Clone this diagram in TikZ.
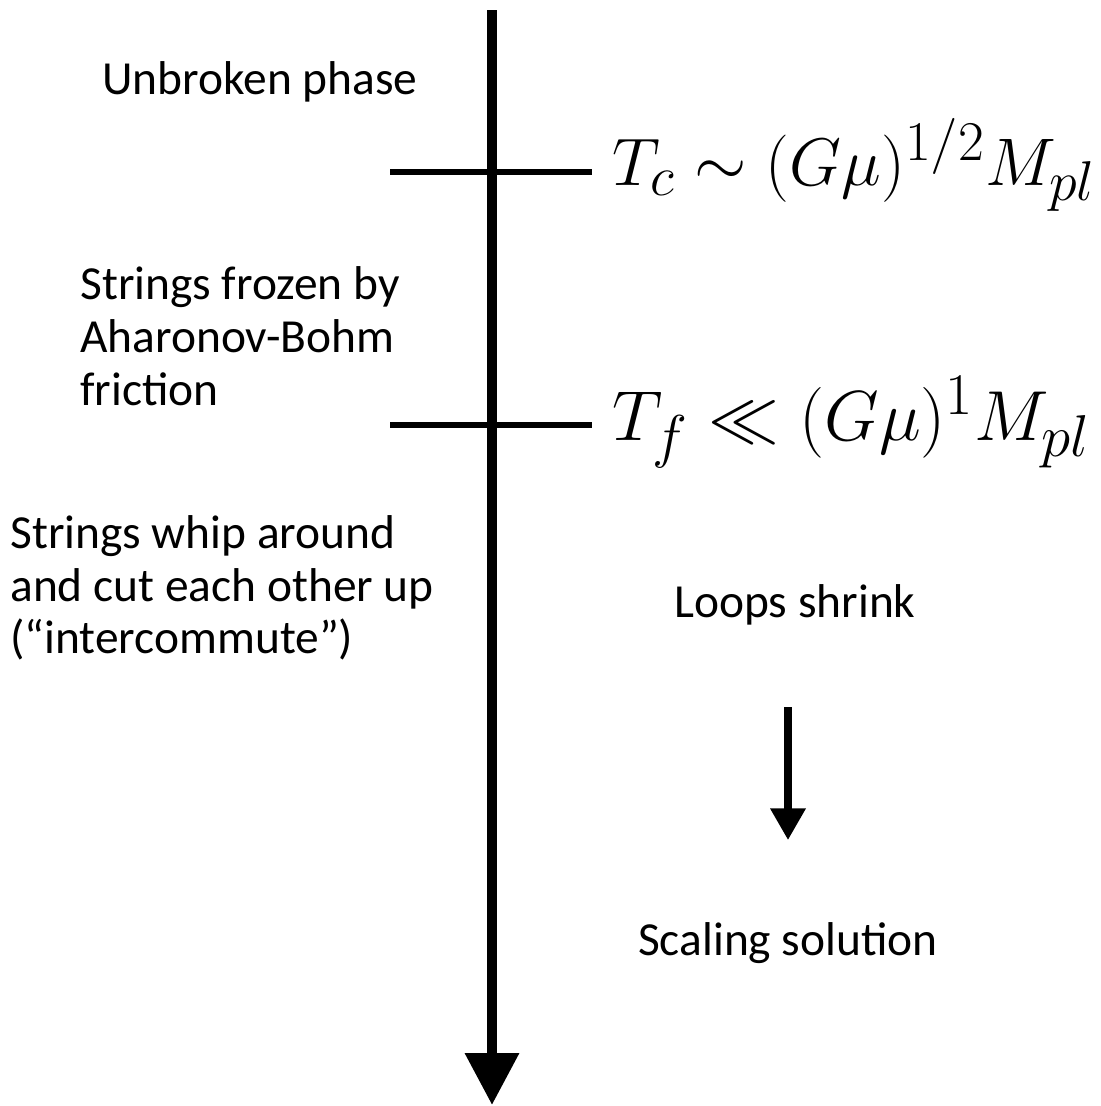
\documentclass[tikz,border=0pt]{standalone}
\usepackage[no-math]{fontspec}
\usepackage{graphicx}
\setmainfont{Carlito}
\usetikzlibrary{arrows.meta}
\newcommand{\templabel}[2]{\scalebox{#1}{\Huge$#2$}}
\tikzset{
  phase/.style={font=\fontsize{27}{30}\selectfont, align=left, inner sep=0pt},
  temp/.style={anchor=base west, inner sep=0pt},
  tick/.style={line width=3.3pt},
}
\begin{document}
\begin{tikzpicture}[x=0.02cm,y=-0.02cm,>=Triangle]
\useasboundingbox (0,0) rectangle (1101,1106);
% ---------- time axis ----------
\coordinate (axtop) at (492,10);
\coordinate (axbot) at (492,1105);
\draw[line width=5.67pt,-{Triangle[length=29.5pt,width=29.5pt]}] (axtop) -- (axbot);
% ---------- critical temperature ----------
\coordinate (tcl) at (390,172);
\coordinate (tcr) at (592,172);
\draw[tick] (tcl) -- (tcr);
\node[temp] (tc) at (612,185) {\templabel{1.54}{T_c \sim (G\mu)^{1/2} M_{pl}}};
% ---------- friction temperature ----------
\coordinate (tfl) at (390,425);
\coordinate (tfr) at (592,425);
\draw[tick] (tfl) -- (tfr);
\node[temp] (tf) at (612,440) {\templabel{1.62}{T_f \ll (G\mu)^{1} M_{pl}}};
% ---------- phases ----------
\node[phase] (unbroken) at (260,82) {Unbroken phase};
\node[phase, anchor=west] (frozen) at (80,336) {Strings frozen by\\Aharonov-Bohm\\friction};
\node[phase, anchor=west] (whip) at (10,588) {Strings whip around\\and cut each other up\\(“intercommute”)};
% ---------- loops ----------
\node[phase] (shrink) at (795,605) {Loops shrink};
\node[phase] (scaling) at (788,943) {Scaling solution};
\coordinate (lptop) at (788,707);
\coordinate (lpbot) at (788,840);
\draw[line width=4pt,-{Triangle[length=18pt,width=19.3pt]}] (lptop) -- (lpbot);
\end{tikzpicture}
\end{document}
